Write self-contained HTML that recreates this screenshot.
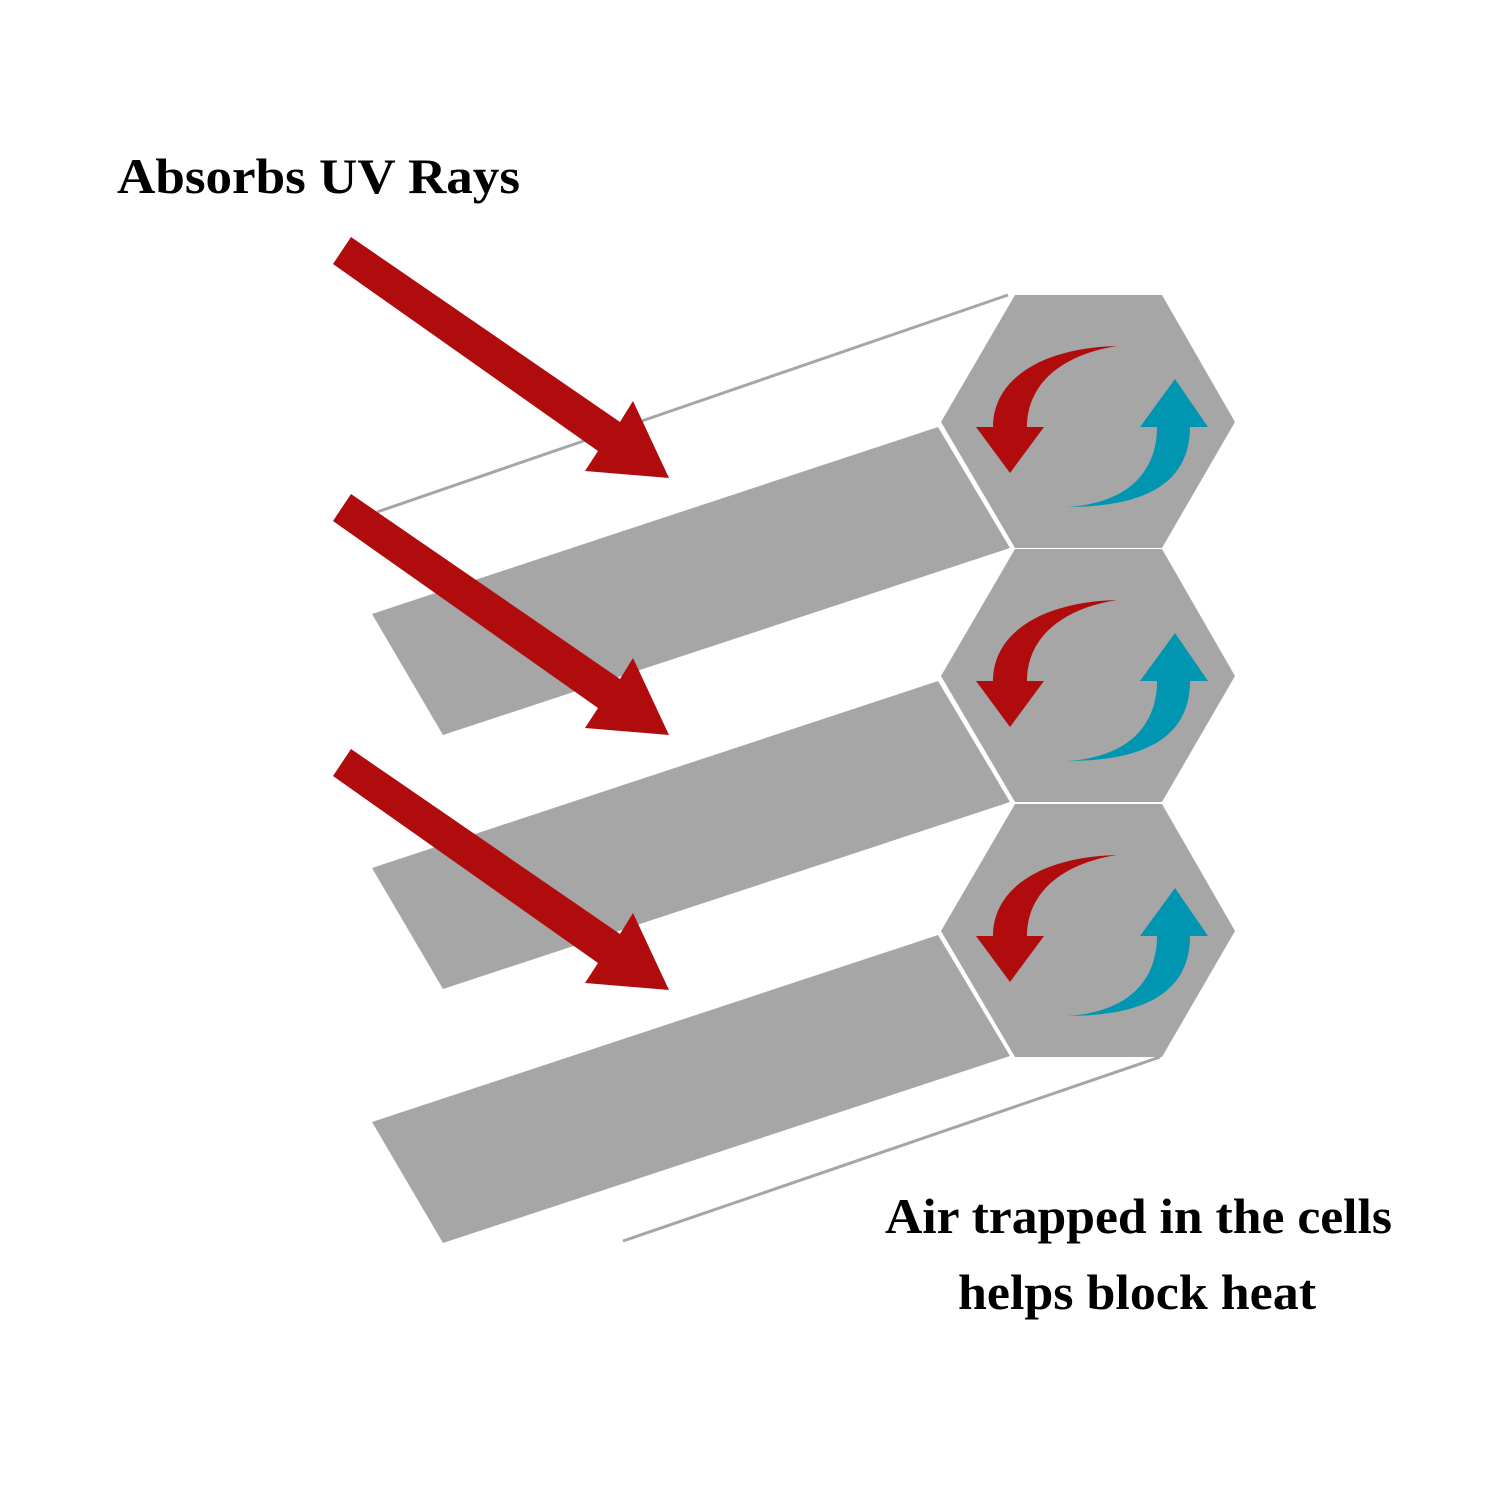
<!DOCTYPE html>
<html><head><meta charset="utf-8"><style>html,body{margin:0;padding:0;background:#fff}svg{display:block}</style></head>
<body>
<svg width="1500" height="1500" viewBox="0 0 1500 1500" xmlns="http://www.w3.org/2000/svg">
<line x1="377" y1="512" x2="1008" y2="295" stroke="#a6a6a6" stroke-width="3"/>
<line x1="623" y1="1241" x2="1160" y2="1057" stroke="#a6a6a6" stroke-width="3"/>
<g fill="#a6a6a6">
<polygon points="372,614 938,427 1010,548 443,735"/>
<polygon points="372,868 938,681 1010,802 443,989"/>
<polygon points="372,1122 938,935 1010,1056 443,1243"/>
</g>
<defs>
<g id="hex">
<polygon points="1015,295 1162,295 1235,422 1162,548 1015,548 941,422" fill="#a6a6a6"/>
<path d="M1117,346 C1040,348 993,380 993,427 L976,427 L1010,473 L1044,427 L1027,427 C1027,385 1060,355 1117,346 Z" fill="#b00c0d"/>
<path d="M1067,507 C1130,503 1157,470 1157,427 L1140,427 L1175,379 L1208,427 L1190,427 C1190,480 1150,507 1067,507 Z" fill="#0096b2"/>
</g>
<polygon id="arr" points="351,237 620,422 633,401 669,478 585,471 598,451 333,264" fill="#b00c0d"/>
</defs>
<use href="#hex"/>
<use href="#hex" transform="translate(0,254)"/>
<use href="#hex" transform="translate(0,509)"/>
<use href="#arr"/>
<use href="#arr" transform="translate(0,257)"/>
<use href="#arr" transform="translate(0,512)"/>
<g font-family="'Liberation Serif',serif" font-weight="bold" font-size="50" fill="#000">
<text x="117" y="193" textLength="403" lengthAdjust="spacingAndGlyphs">Absorbs UV Rays</text>
<text x="885" y="1233" textLength="507" lengthAdjust="spacingAndGlyphs">Air trapped in the cells</text>
<text x="958" y="1309" textLength="358" lengthAdjust="spacingAndGlyphs">helps block heat</text>
</g>
</svg>
</body></html>
